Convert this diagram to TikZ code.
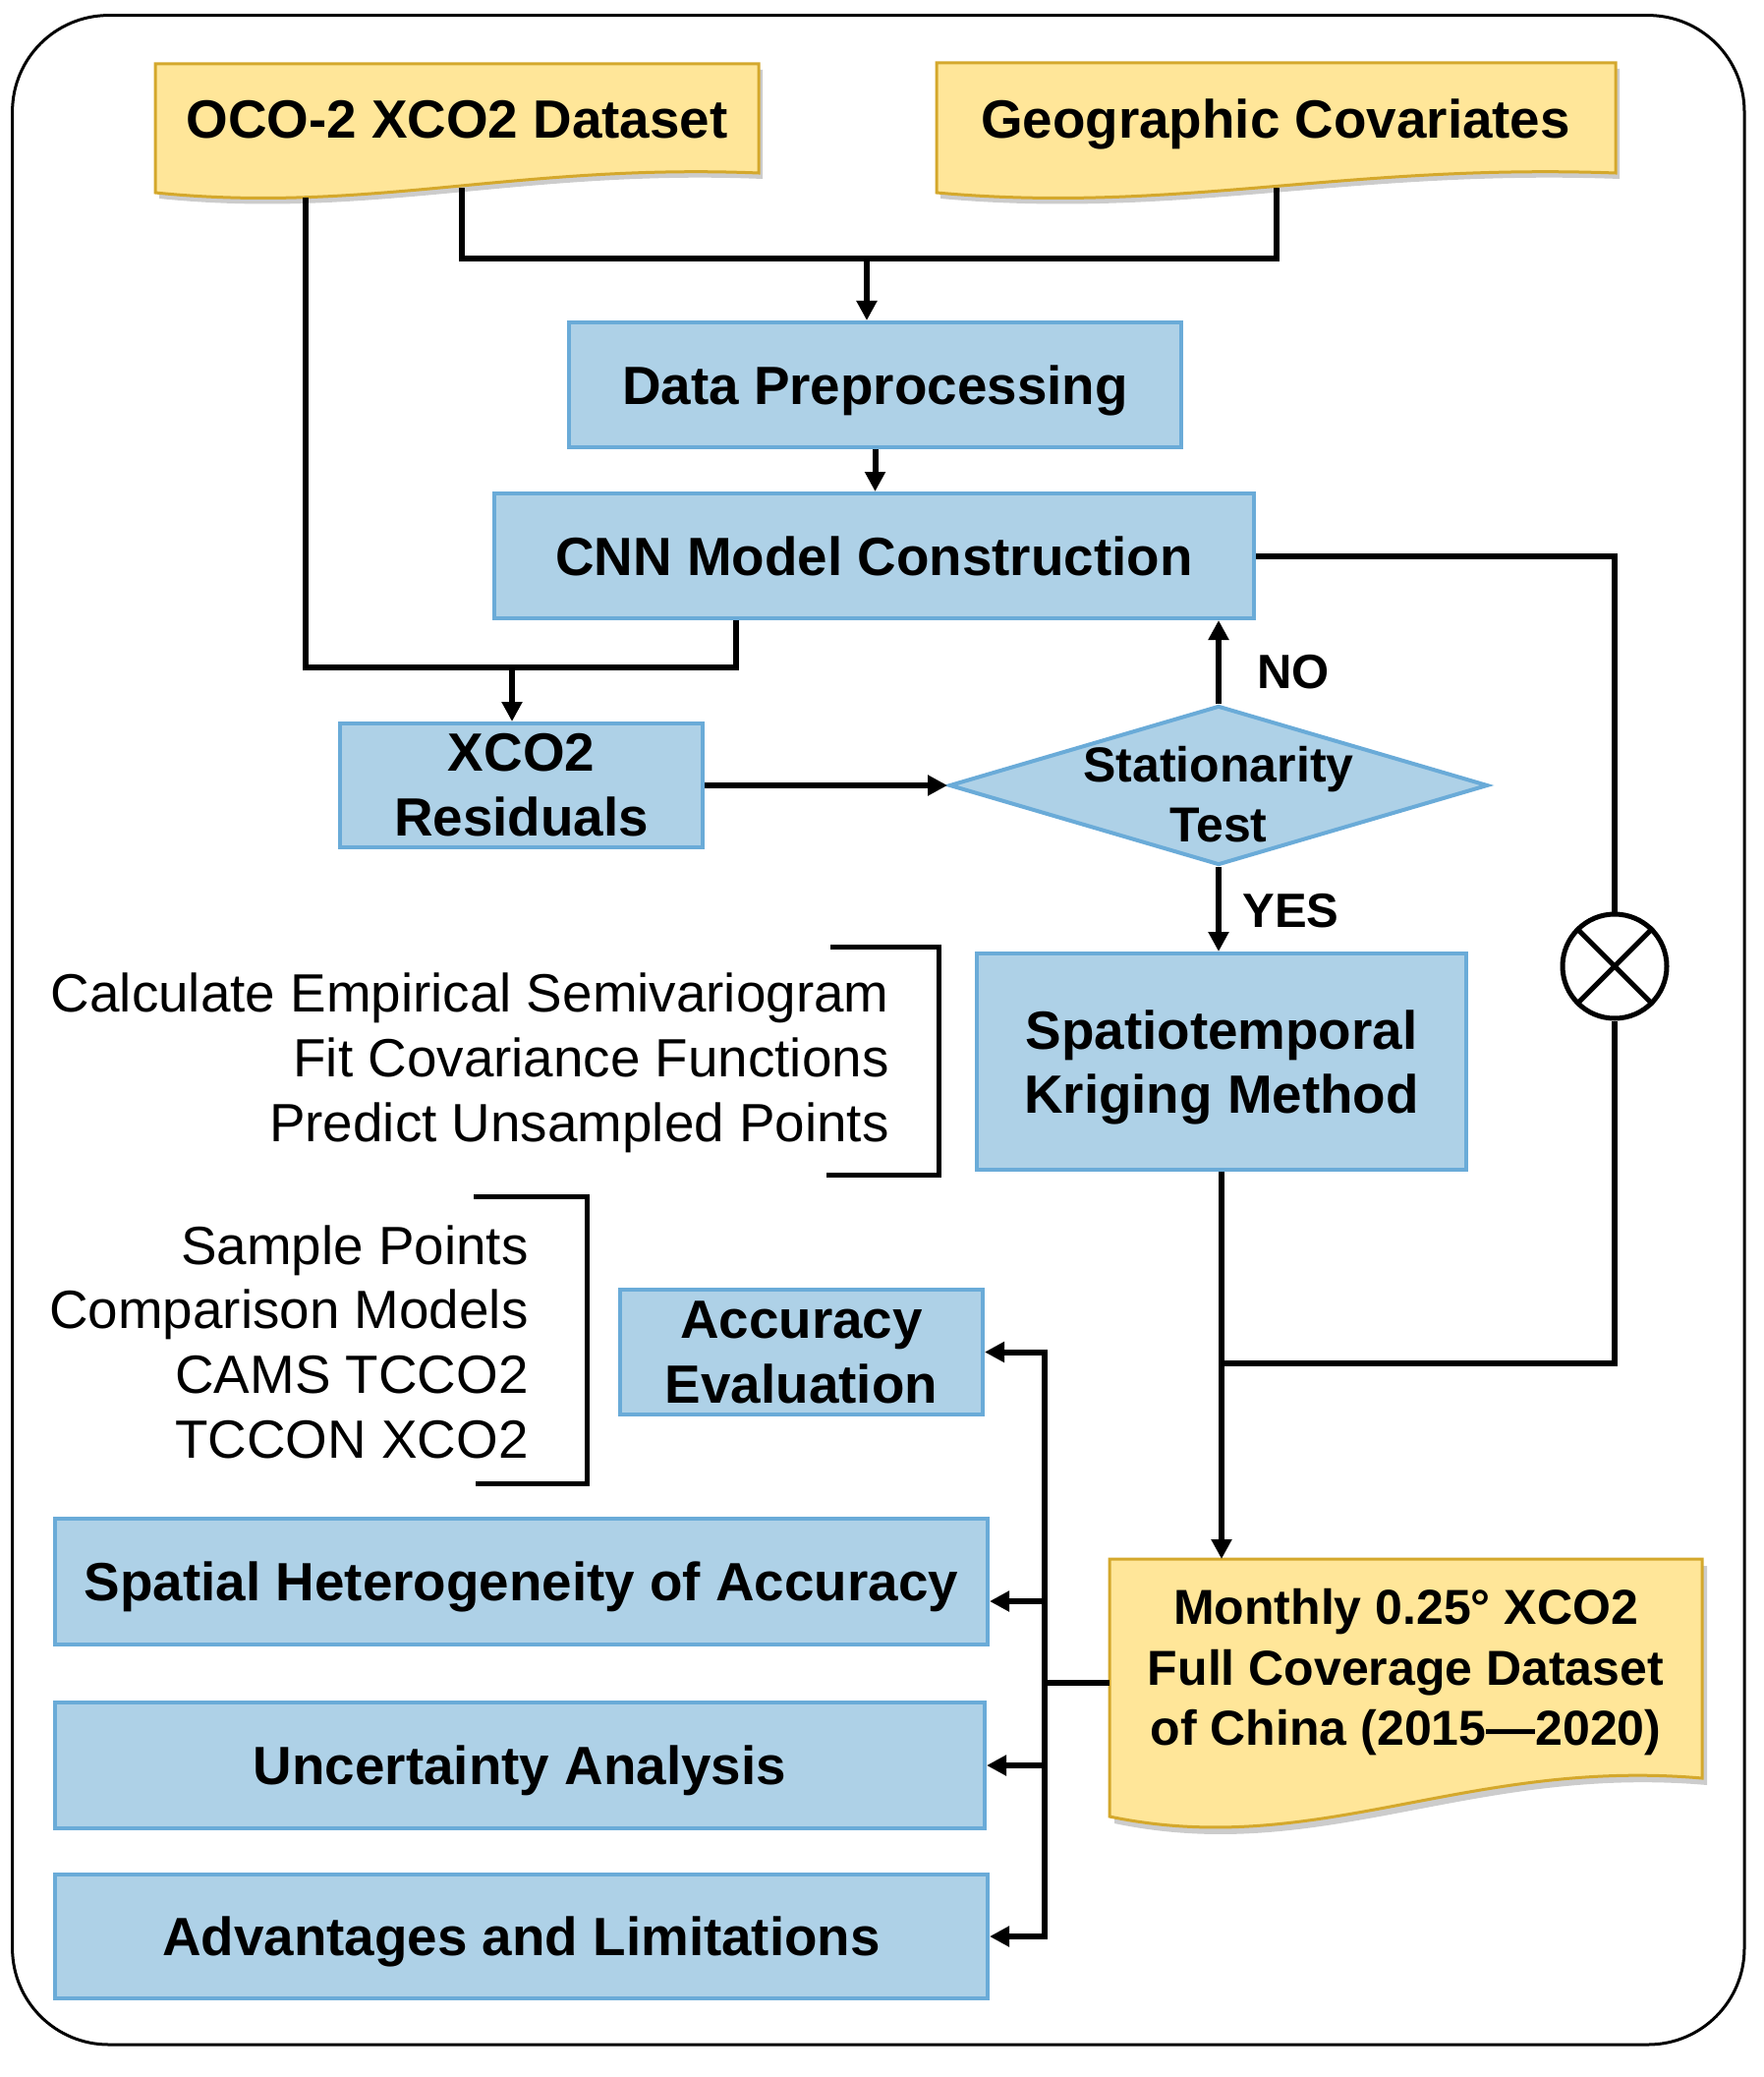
\documentclass[tikz,border=0pt]{standalone}
\usepackage{fontspec}
\setmainfont{Liberation Sans}
\usetikzlibrary{arrows.meta,shapes.geometric}
\definecolor{bfill}{RGB}{174,209,231}
\definecolor{bdraw}{RGB}{106,171,216}
\definecolor{yfill}{RGB}{255,230,153}
\definecolor{ydraw}{RGB}{212,168,44}
\begin{document}
\begin{tikzpicture}[x=0.5pt,y=-0.5pt,
  conn/.style={line width=3pt, line join=miter},
  arr/.style={conn, -{Triangle[length=10pt,width=10pt]}},
  bbox/.style={rectangle, fill=bfill, draw=bdraw, line width=2pt, inner sep=0pt,
    font=\bfseries\fontsize{27.4}{33}\selectfont, align=center},
  oneline/.style={text height=19.6pt, text depth=0pt},
  lbl/.style={font=\bfseries\fontsize{24.5}{30}\selectfont, inner sep=0pt},
  doctext/.style={font=\bfseries\fontsize{27.4}{33}\selectfont, inner sep=0pt, align=center},
  note/.style={font=\fontsize{27.4}{33}\selectfont, align=right, inner sep=0pt, anchor=east},
  docpath/.style={fill=yfill, draw=ydraw, line width=1.5pt},
  shadowpath/.style={fill=black, opacity=0.2},
  bracket/.style={line width=2.5pt, line join=miter}
]
\useasboundingbox (0,0) rectangle (1794,2113);
% outer frame
\draw[line width=1.5pt, rounded corners=49pt] (12.6,15.6) rectangle (1775,2080);

% document shapes
\fill[shadowpath, shift={(4,6)}] (158,65) -- (772,65) -- (772,176) .. controls (526,166) and (373,218) .. (158,196) -- cycle;
\draw[docpath] (158,65) -- (772,65) -- (772,176) .. controls (526,166) and (373,218) .. (158,196) -- cycle;
\fill[shadowpath, shift={(4,6)}] (953,64) -- (1644,64) -- (1644,176) .. controls (1368,166) and (1195,218) .. (953,196) -- cycle;
\draw[docpath] (953,64) -- (1644,64) -- (1644,176) .. controls (1368,166) and (1195,218) .. (953,196) -- cycle;
\fill[shadowpath, shift={(5,7)}] (1129,1586) -- (1732,1586) -- (1732,1809) .. controls (1491,1788) and (1340,1892) .. (1129,1848) -- cycle;
\draw[docpath] (1129,1586) -- (1732,1586) -- (1732,1809) .. controls (1491,1788) and (1340,1892) .. (1129,1848) -- cycle;

\node[doctext, anchor=base] (oco) at (465,141) {OCO-2 XCO2 Dataset};
\node[doctext, anchor=base] (geo) at (1298,141) {Geographic Covariates};
\node[doctext, font=\bfseries\fontsize{25}{30.75}\selectfont] (mon) at (1430.5,1701.5) {Monthly 0.25° XCO2\\Full Coverage Dataset\\of China (2015—2020)};

\coordinate (ocoL) at (311,201);
\coordinate (ocoR) at (470,191);
\coordinate (geoB) at (1299,191);
\coordinate (j1) at (882,263);
\coordinate (j2) at (521,679);
\coordinate (monT) at (1430.5,1586);
\coordinate (monL) at (1129,1712);
\coordinate (bus) at (1063,1712);

% process boxes
\node[bbox, oneline, minimum width=311.5pt, minimum height=63.5pt] (dp) at (890.5,391.5) {Data Preprocessing};
\node[bbox, oneline, minimum width=386.5pt, minimum height=63.5pt] (cnn) at (889.5,565.5) {CNN Model Construction};
\node[bbox, minimum width=184.5pt, minimum height=63pt] (res) at (530.5,799) {XCO2\\Residuals};
\node[diamond, fill=bfill, draw=bdraw, line width=2pt, inner sep=0pt, minimum width=274pt, minimum height=81pt] (dia) at (1240,799) {};
\node[lbl, align=center, font=\bfseries\fontsize{25}{30.5}\selectfont] (diat) at (1240,808.5) {Stationarity\\Test};
\node[bbox, font=\bfseries\fontsize{27.4}{32.5}\selectfont, minimum width=249pt, minimum height=110pt] (st) at (1243,1080) {\rule{0pt}{26pt}Spatiotemporal\\Kriging Method};
\node[bbox, minimum width=184.5pt, minimum height=63.5pt] (acc) at (815.5,1375.5) {Accuracy\\Evaluation};
\node[bbox, oneline, minimum width=474.5pt, minimum height=64pt] (sh) at (530.5,1609) {Spatial Heterogeneity of Accuracy};
\node[bbox, oneline, minimum width=473pt, minimum height=64pt] (ua) at (529,1796) {Uncertainty Analysis};
\node[bbox, oneline, minimum width=474.5pt, minimum height=63pt] (al) at (530.5,1970) {Advantages and Limitations};

% multiply circle
\node[circle, draw, line width=2.5pt, minimum size=53pt, inner sep=0pt] (cx) at (1643,983) {};
\draw[line width=2.5pt] (cx.45) -- (cx.225) (cx.135) -- (cx.315);

% labels
\node[lbl, anchor=base west] (no) at (1279,700) {NO};
\node[lbl, anchor=base west] (yes) at (1264,943) {YES};

% notes
\node[note] (n1) at (905,1081) {Calculate Empirical Semivariogram\\Fit Covariance Functions\\Predict Unsampled Points};
\node[note, font=\fontsize{27.4}{32.85}\selectfont] (n2) at (538,1365) {Sample Points\\Comparison Models\\CAMS TCCO2\\TCCON XCO2};
\draw[bracket] (845,963) -| (955,1195) -- (841,1195);
\draw[bracket] (482,1217) -| (597,1509) -- (484,1509);

% connectors
\coordinate (cnnB) at ([xshift=-70.25pt]cnn.south);
\coordinate (j3) at ([yshift=-97.5pt]st.south);
\coordinate (shA) at ([yshift=-10pt]sh.east);
\draw[conn] (ocoR) |- (j1) -| (geoB);
\draw[arr] (j1) -- (j1 |- dp.north);
\draw[arr] (dp.south) -- (dp.south |- cnn.north);
\draw[conn] (ocoL) |- (j2) -| (cnnB);
\draw[arr] (j2) -- (j2 |- res.north);
\draw[arr] (res.east) -- (dia.west);
\draw[arr] (dia.north) -- (dia.north |- cnn.south);
\draw[arr] (dia.south) -- (dia.south |- st.north);
\draw[conn] (cnn.east) -| (cx.north);
\draw[conn] (cx.south) |- (j3);
\draw[arr] (st.south) -- (st.south |- monT);
\draw[conn] (monL) -- (bus);
\draw[conn, line cap=rect] (bus |- acc.east) -- (bus |- al.east);
\draw[arr] (bus |- acc.east) -- (acc.east);
\draw[arr] (bus |- shA) -- (shA);
\draw[arr] (bus |- ua.east) -- (ua.east);
\draw[arr] (bus |- al.east) -- (al.east);
\end{tikzpicture}
\end{document}
